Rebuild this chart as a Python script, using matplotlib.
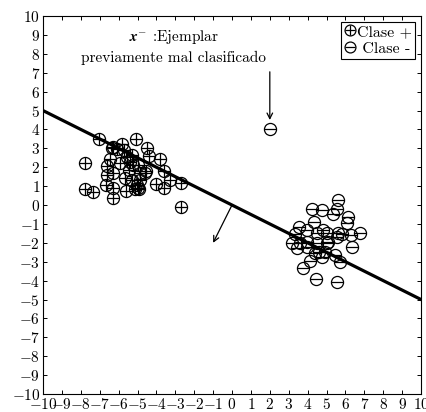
import numpy as np
import matplotlib
matplotlib.use("Agg")
import matplotlib.pyplot as plt
from matplotlib.legend_handler import HandlerTuple

plt.rcParams['font.family'] = 'serif'
plt.rcParams['font.serif'] = ['cmr10']
plt.rcParams['mathtext.fontset'] = 'cm'
plt.rcParams['axes.formatter.use_mathtext'] = True

# clase + (puntos con circulo y cruz)
pos_x = [-7.78, -7.78, -7.34, -7.05, -6.28, -5.80, -5.10, -4.51, -4.39, -3.81,
         -3.58, -3.28, -2.71, -2.71, -6.28, -6.67, -6.31, -6.63, -6.28, -6.63,
         -6.46, -5.93, -5.63, -5.13, -4.90, -5.04, -4.60, -4.55, -4.04, -3.58,
         -5.66, -5.43, -5.22, -4.96, -5.57, -5.31, -5.71, -6.07, -6.37, -5.40,
         -4.87, -5.31, -4.87, -4.97]
pos_y = [2.22, 0.85, 0.70, 3.47, 3.09, 3.23, 3.47, 3.00, 2.61, 2.42,
         1.80, 1.32, 1.15, -0.09, 0.35, 1.06, 0.88, 1.59, 1.68, 2.08,
         2.42, 2.24, 0.76, 0.83, 0.83, 1.06, 1.68, 1.80, 1.11, 0.88,
         1.41, 1.85, 2.12, 2.12, 2.56, 2.65, 2.91, 2.95, 3.00, 2.29,
         1.68, 1.32, 1.32, 0.88]

# clase - (puntos con circulo y guion)
neg_x = [4.22, 4.78, 5.33, 5.54, 5.60, 6.12, 6.07, 3.56, 3.98, 4.36,
         3.33, 3.16, 3.46, 3.98, 4.48, 4.80, 5.10, 5.54, 5.80, 6.28,
         6.77, 6.33, 5.45, 5.71, 4.75, 4.60, 4.13, 3.77, 4.43, 5.54,
         4.48, 5.01, 3.95, 4.39, 4.92, 5.01, 3.60, 5.63]
neg_y = [-0.23, -0.26, -0.48, -0.23, 0.25, -0.65, -0.94, -1.15, -1.32, -0.92,
         -1.53, -2.03, -2.29, -2.20, -1.99, -1.32, -1.94, -1.68, -1.55, -1.59,
         -1.50, -2.20, -2.65, -3.00, -2.73, -2.47, -2.95, -3.35, -3.92, -4.06,
         -1.50, -1.50, -1.94, -2.56, -2.47, -2.03, -2.03, -1.50]

# ejemplar mal clasificado
mal_x, mal_y = 2.0, 4.0

# frontera de decision y vector normal
frontera_x = [-10, 10]
frontera_y = [5, -5]
normal_ini = (0, 0)
normal_fin = (-1, -2)

fig = plt.figure(figsize=(4.27, 4.12), dpi=100)
ax = fig.add_axes([0.1007, 0.0437, 0.8853, 0.9173])

ms = 8.7
mk = dict(ls='none', color='black', markersize=ms, markeredgewidth=0.9)
c1, = ax.plot(pos_x, pos_y, marker='o', fillstyle='none', **mk)
p1, = ax.plot(pos_x, pos_y, marker='+', **mk)
c2, = ax.plot(neg_x + [mal_x], neg_y + [mal_y], marker='o', fillstyle='none', **mk)
p2, = ax.plot(neg_x + [mal_x], neg_y + [mal_y], marker='_', **mk)

ax.plot(frontera_x, frontera_y, color='black', lw=2.3)

ax.annotate('', xy=normal_fin, xytext=normal_ini,
            arrowprops=dict(arrowstyle='->', color='black', lw=0.9,
                            shrinkA=0, shrinkB=0))
ax.annotate('', xy=(mal_x, 4.5), xytext=(mal_x, 7.05),
            arrowprops=dict(arrowstyle='->', color='black', lw=0.9,
                            shrinkA=0, shrinkB=0))

ax.text(-3.07, 8.9, r'$\boldsymbol{x}^{-}$ :Ejemplar', ha='center', va='center', fontsize=11)
ax.text(-3.07, 7.8, 'previamente mal clasificado', ha='center', va='center', fontsize=11)

leg = ax.legend([(c1, p1), (c2, p2)], ['Clase +', ' Clase -'],
                handler_map={tuple: HandlerTuple(ndivide=1)},
                loc='upper right', fontsize=11.5, handlelength=0.65,
                handletextpad=0.15, borderpad=0.2, borderaxespad=0.35,
                labelspacing=0.15, fancybox=False, framealpha=1,
                edgecolor='black', markerscale=0.9)
leg.get_frame().set_linewidth(0.8)

ax.set_xlim(-10, 10)
ax.set_ylim(-10, 10)
ax.set_xticks(np.arange(-10, 11, 1))
ax.set_yticks(np.arange(-10, 11, 1))
ax.tick_params(direction='in', top=True, right=True, length=3, width=0.7,
               labelsize=11, pad=2)
for s in ax.spines.values():
    s.set_linewidth(0.8)

fig.savefig('out.png', dpi=100)
